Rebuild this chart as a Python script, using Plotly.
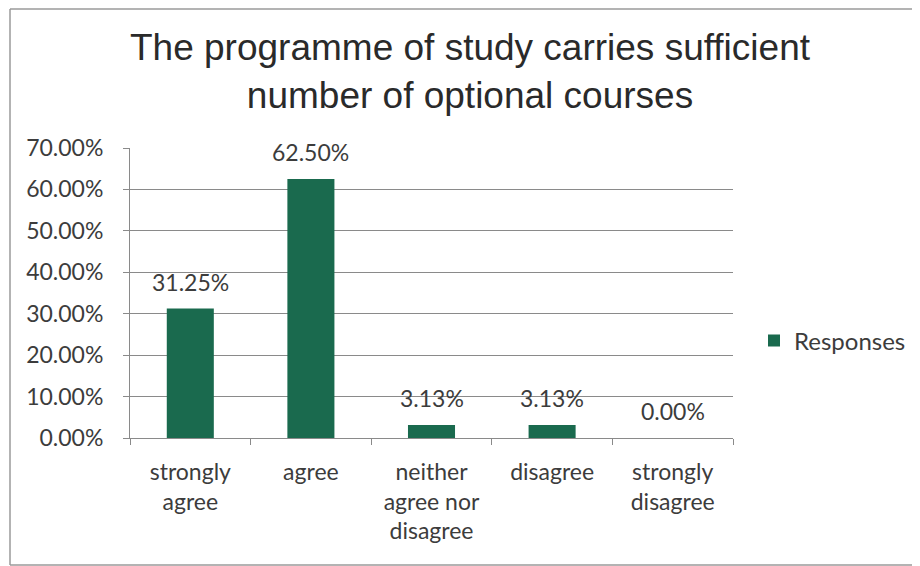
import plotly.graph_objects as go

categories = ["strongly<br>agree", "agree", "neither<br>agree nor<br>disagree", "disagree", "strongly<br>disagree"]
responses = [0.3125, 0.625, 0.0313, 0.0313, 0.0]
series_name = "Responses"
y_ticks = [0, 0.1, 0.2, 0.3, 0.4, 0.5, 0.6, 0.7]

BAR_COLOR = "#1a6a4e"
TXT = "#3c3c3c"
FONT = "Lato, 'Open Sans', sans-serif"

# the page has a default 8px body margin; size the figure to fill the window
W, H = 912, 558
L, R, T, B = 122, 187, 140, 128
pw, ph = W - L - R, H - T - B

fig = go.Figure()
fig.add_trace(go.Bar(
    x=categories, y=responses, name=series_name,
    marker=dict(color=BAR_COLOR, line=dict(width=0)),
    width=0.39, showlegend=True,
))

for c, v in zip(categories, responses):
    fig.add_annotation(x=c, y=v, text=f"{v*100:.2f}%", showarrow=False,
                       yshift=27, font=dict(family=FONT, size=23, color=TXT))

fig.update_layout(
    width=W, height=H,
    margin=dict(l=L, r=R, t=T, b=B, autoexpand=False),
    paper_bgcolor="white", plot_bgcolor="white",
    title=dict(text="The programme of study carries sufficient<br>number of optional courses",
               x=462 / W, xanchor="center", y=1 - 52 / H, yanchor="middle",
               font=dict(family="'Liberation Sans', Arial, sans-serif",
                         size=37, color="#2a2a2a")),
    legend=dict(x=(746 - L) / pw, y=(H - B - 333) / ph, xanchor="left", yanchor="middle",
                font=dict(family=FONT, size=24, color=TXT), bgcolor="rgba(0,0,0,0)",
                itemsizing="constant"),
    showlegend=True,
)

fig.update_xaxes(
    type="category", showline=True, linecolor="#8a8a8a", linewidth=1,
    ticks="outside", tickson="boundaries", ticklen=6, tickcolor="#8a8a8a",
    tickfont=dict(family=FONT, size=23, color=TXT), showgrid=False,
    ticklabelstandoff=13, automargin=False,
)
fig.update_yaxes(
    range=[0, 0.7], tickvals=y_ticks, tickformat=".2%",
    showline=True, linecolor="#8a8a8a", linewidth=1,
    ticks="outside", ticklen=6, tickcolor="#8a8a8a",
    showgrid=True, gridcolor="#8a8a8a", gridwidth=1, zeroline=False,
    tickfont=dict(family=FONT, size=23, color=TXT),
    ticklabelstandoff=15, automargin=False,
)

# chart-area border: top, left and bottom edges (paper coords relative to plot area)
bx0, bx1 = (2 - L) / pw, (W - L) / pw
by0, by1 = -(557 - (H - B)) / ph, (H - B - 1) / ph
border = dict(color="#9a9a9a", width=1.5)
for (x0, y0, x1, y1) in [(bx0, by1, bx1, by1), (bx0, by0, bx0, by1), (bx0, by0, bx1, by0)]:
    fig.add_shape(type="line", xref="paper", yref="paper", x0=x0, y0=y0, x1=x1, y1=y1,
                  line=border, layer="below")

fig.write_html("out.html")
